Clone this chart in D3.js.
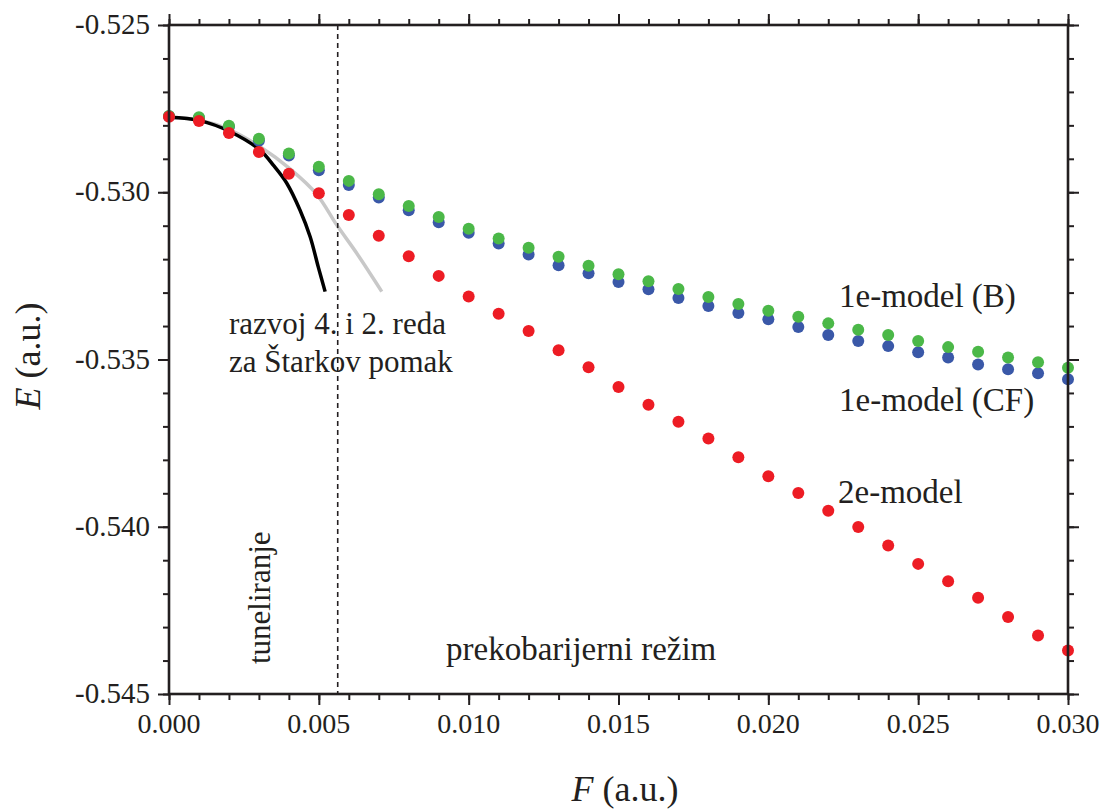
<!DOCTYPE html>
<html><head><meta charset="utf-8">
<script src="https://cdn.jsdelivr.net/npm/d3@7"></script>
<style>
html,body{margin:0;padding:0;background:#fff;}
text{font-family:"Liberation Serif","Times New Roman",serif;fill:#231f20;}
</style></head>
<body><svg id="c" width="1100" height="810"></svg>
<script>
// ---- data ----
const fieldF = [0.000,0.001,0.002,0.003,0.004,0.005,0.006,0.007,0.008,0.009,0.010,
  0.011,0.012,0.013,0.014,0.015,0.016,0.017,0.018,0.019,0.020,
  0.021,0.022,0.023,0.024,0.025,0.026,0.027,0.028,0.029,0.030];
const model1eB = [-0.52772,-0.52776,-0.52801,-0.52840,-0.52884,-0.52924,-0.52966,-0.53006,-0.53041,-0.53074,-0.53109,
  -0.53138,-0.53166,-0.53193,-0.53220,-0.53245,-0.53266,-0.53289,-0.53313,-0.53334,-0.53354,
  -0.53372,-0.53392,-0.53411,-0.53427,-0.53445,-0.53463,-0.53477,-0.53494,-0.53508,-0.53525];
const model1eCF = [-0.52773,-0.52778,-0.52804,-0.52846,-0.52890,-0.52934,-0.52978,-0.53016,-0.53054,-0.53090,-0.53121,
  -0.53153,-0.53186,-0.53218,-0.53242,-0.53268,-0.53290,-0.53316,-0.53340,-0.53361,-0.53380,
  -0.53403,-0.53427,-0.53445,-0.53460,-0.53478,-0.53494,-0.53515,-0.53529,-0.53541,-0.53559];
const model2e = [-0.52774,-0.52787,-0.52823,-0.52880,-0.52945,-0.53003,-0.53068,-0.53130,-0.53191,-0.53250,-0.53312,
  -0.53363,-0.53415,-0.53472,-0.53523,-0.53582,-0.53635,-0.53686,-0.53736,-0.53792,-0.53849,
  -0.53899,-0.53952,-0.54001,-0.54056,-0.54111,-0.54163,-0.54212,-0.54270,-0.54325,-0.54370];
// Stark expansion curves
const stark4F = [0.0000,0.00103,0.00204,0.00304,0.00348,0.00393,0.00437,0.00471,0.00498,0.00521];
const stark4E = [-0.52776,-0.52786,-0.52819,-0.52874,-0.52919,-0.52973,-0.53053,-0.53133,-0.53223,-0.53297];
const stark2F = [0.0000,0.00103,0.00204,0.00304,0.00404,0.00493,0.00560,0.00627,0.00710];
const stark2E = [-0.52776,-0.52785,-0.52814,-0.52864,-0.52930,-0.53006,-0.53098,-0.53183,-0.53297];
const barrierF = 0.00563;
const xTicks = [0.000,0.005,0.010,0.015,0.020,0.025,0.030];
const xTickLabels = ["0.000","0.005","0.010","0.015","0.020","0.025","0.030"];
const yTicks = [-0.525,-0.530,-0.535,-0.540,-0.545];
const yTickLabels = ["-0.525","-0.530","-0.535","-0.540","-0.545"];

// ---- chart ----
const svg = d3.select("#c");
const L=169, R=1068, T=25, B=694;
const x = d3.scaleLinear().domain([0,0.030]).range([L,R]);
const y = d3.scaleLinear().domain([-0.545,-0.525]).range([B,T]);
const minorX = d3.range(0,31).map(i=>i*0.001);
const minorY = d3.range(0,21).map(i=>-0.545+i*0.001);

// curves
const line = d3.line().x(d=>x(d[0])).y(d=>y(d[1])).curve(d3.curveCatmullRom);
svg.append("path").datum(stark2F.map((f,i)=>[f,stark2E[i]]))
  .attr("d",line).attr("fill","none").attr("stroke","#c8c8c8").attr("stroke-width",3.5);
svg.append("path").datum(stark4F.map((f,i)=>[f,stark4E[i]]))
  .attr("d",line).attr("fill","none").attr("stroke","#000").attr("stroke-width",3.5);

// dashed line
svg.append("line").attr("x1",x(barrierF)).attr("x2",x(barrierF)).attr("y1",T).attr("y2",B)
  .attr("stroke","#231f20").attr("stroke-width",1.6).attr("stroke-dasharray","5,4");

// points
function dots(vals,color){
  svg.append("g").selectAll("circle").data(fieldF.map((f,i)=>[f,vals[i]])).join("circle")
    .attr("cx",d=>x(d[0])).attr("cy",d=>y(d[1])).attr("r",6).attr("fill",color);
}
dots(model1eCF,"#3a58a8");
dots(model1eB,"#4bb848");
dots(model2e,"#ed1c24");

// axes
const ax = (gen, tr, ticks, size) => svg.append("g").attr("transform",tr)
  .call(gen.tickValues(ticks).tickSize(size).tickFormat(""))
  .call(g=>{g.select(".domain").remove(); g.selectAll("line").attr("stroke","#231f20").attr("stroke-width",2);});
ax(d3.axisBottom(x), `translate(0,${B})`, minorX, 6);
ax(d3.axisBottom(x), `translate(0,${B})`, xTicks, 11);
ax(d3.axisTop(x), `translate(0,${T})`, minorX, 6);
ax(d3.axisTop(x), `translate(0,${T})`, xTicks, 11);
ax(d3.axisLeft(y), `translate(${L},0)`, minorY, 6);
ax(d3.axisLeft(y), `translate(${L},0)`, yTicks, 11);
ax(d3.axisRight(y), `translate(${R},0)`, minorY, 6);
ax(d3.axisRight(y), `translate(${R},0)`, yTicks, 11);

// frame
svg.append("rect").attr("x",L).attr("y",T).attr("width",R-L).attr("height",B-T)
  .attr("fill","none").attr("stroke","#231f20").attr("stroke-width",2.6);

// tick labels
svg.append("g").selectAll("text").data(xTicks).join("text")
  .attr("x",d=>x(d)).attr("y",B+39).attr("text-anchor","middle")
  .attr("font-size",28).text((d,i)=>xTickLabels[i]);
svg.append("g").selectAll("text").data(yTicks).join("text")
  .attr("x",L-19).attr("y",d=>y(d)+9).attr("text-anchor","end")
  .attr("font-size",29).text((d,i)=>yTickLabels[i]);

// axis titles
const xt = svg.append("text").attr("x",625).attr("y",801).attr("text-anchor","middle").attr("font-size",36);
xt.append("tspan").attr("font-style","italic").text("F");
xt.append("tspan").text(" (a.u.)");
const yt = svg.append("text").attr("transform","translate(40,356) rotate(-90)").attr("text-anchor","middle").attr("font-size",36);
yt.append("tspan").attr("font-style","italic").text("E");
yt.append("tspan").text(" (a.u.)");

// annotations
const ann = (t,px,py,fs)=>svg.append("text").attr("x",px).attr("y",py).attr("font-size",fs||31).text(t);
ann("razvoj 4. i 2. reda",229,334);
ann("za Štarkov pomak",229,372);
ann("1e-model (B)",839,307,33);
ann("1e-model (CF)",839,411,33);
ann("2e-model",838,503,33);
ann("prekobarijerni režim",446,660,33);
svg.append("text").attr("transform","translate(270,664) rotate(-90)").attr("font-size",31).text("tuneliranje");
</script></body></html>
